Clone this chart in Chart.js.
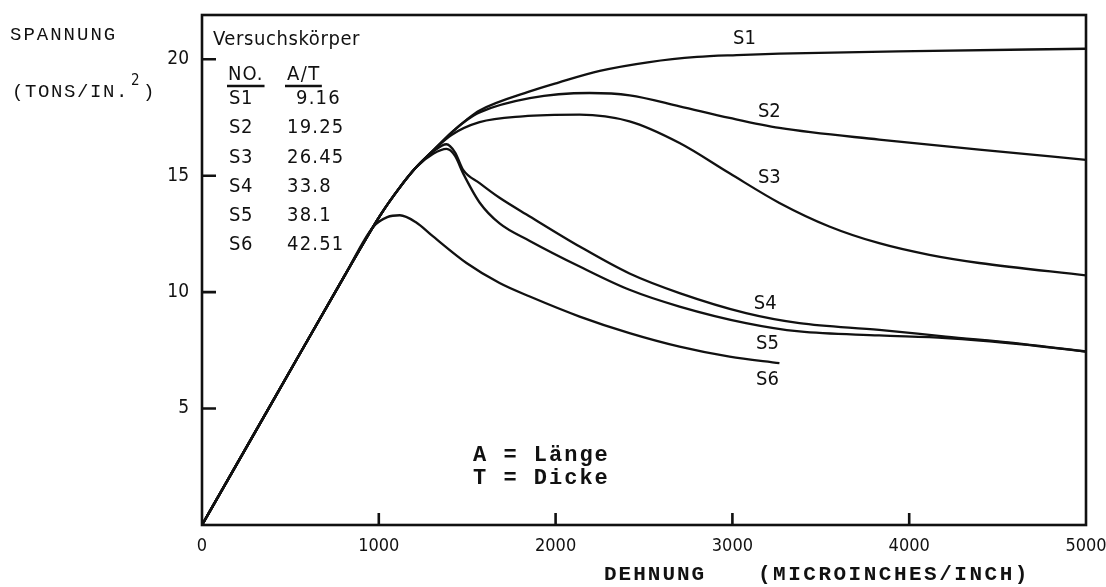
<!DOCTYPE html>
<html>
<head>
<meta charset="utf-8">
<script src="https://cdn.jsdelivr.net/npm/chart.js@4.4.1/dist/chart.umd.min.js"></script>
<style>
  html, body { margin: 0; padding: 0; background: #fff; }
</style>
</head>
<body>
<canvas id="chart" width="1106" height="587"></canvas>
<script>
// strain (microinches/inch) vs stress (tons/in^2)
const S1 = [[0,0],[403,5.35],[806,10.7],[1008,13.3],[1119,14.5],[1210,15.35],[1310,16.1],[1411,16.85],[1496,17.4],[1570,17.8],[1854,18.62],[2016,19.0],[2250,19.5],[2531,19.88],[2800,20.1],[3024,20.18],[3266,20.24],[4032,20.35],[5000,20.45]];
const S2 = [[0,0],[403,5.35],[806,10.7],[1008,13.3],[1119,14.5],[1210,15.35],[1310,16.1],[1411,16.85],[1496,17.38],[1570,17.72],[1854,18.33],[2192,18.55],[2419,18.45],[2701,17.98],[2984,17.48],[3266,17.05],[3830,16.55],[4396,16.12],[5000,15.68]];
const S3 = [[0,0],[403,5.35],[806,10.7],[1008,13.3],[1119,14.5],[1210,15.35],[1310,16.1],[1411,16.75],[1570,17.3],[1814,17.55],[2136,17.62],[2418,17.33],[2701,16.4],[2984,15.1],[3266,13.83],[3548,12.82],[3830,12.1],[4114,11.6],[4396,11.25],[5000,10.72]];
const S4 = [[0,0],[403,5.35],[806,10.7],[1008,13.3],[1119,14.5],[1210,15.35],[1310,16.05],[1383,16.35],[1431,16.0],[1477,15.25],[1570,14.68],[1683,14.05],[1854,13.25],[2136,11.96],[2418,10.8],[2701,9.96],[3077,9.1],[3379,8.67],[3830,8.38],[4207,8.09],[4637,7.78],[5000,7.45]];
const S5 = [[0,0],[403,5.35],[806,10.7],[1008,13.3],[1119,14.5],[1210,15.35],[1310,15.95],[1383,16.15],[1431,15.85],[1477,15.1],[1570,13.85],[1683,12.95],[1854,12.2],[2136,11.1],[2418,10.1],[2701,9.38],[3077,8.67],[3379,8.31],[3830,8.14],[4207,8.03],[4637,7.76],[5000,7.45]];
const S6 = [[0,0],[403,5.35],[806,10.7],[968,12.8],[1048,13.22],[1119,13.3],[1210,13.0],[1307,12.39],[1496,11.25],[1683,10.39],[1854,9.81],[2136,8.95],[2418,8.24],[2701,7.66],[2984,7.23],[3266,6.95]];

const seriesNames = ['S1', 'S2', 'S3', 'S4', 'S5', 'S6'];
const ratioAT = ['9.16', '19.25', '26.45', '33.8', '38.1', '42.51'];
const xTicks = [1000, 2000, 3000, 4000];
const yTicks = [5, 10, 15, 20];

const allSeries = [S1, S2, S3, S4, S5, S6];
const INK = '#111';
const DIN = "'DejaVu Sans Condensed', 'DejaVu Sans', sans-serif";
const MONO = "'Liberation Mono', 'DejaVu Sans Mono', monospace";

// where each curve name sits, in data units
const labelAt = [[3068,20.86],[3209,17.76],[3209,14.92],[3186,9.5],[3198,7.78],[3198,6.24]];

const datasets = allSeries.map((s, i) => ({
  label: seriesNames[i],
  data: s.map(p => ({x: p[0], y: p[1]})),
  borderColor: INK,
  borderWidth: 2.3,
  pointRadius: 0,
  fill: false,
  cubicInterpolationMode: 'monotone'
}));

function spaced(ctx, txt, x, y, ls) {
  ctx.letterSpacing = ls + 'px';
  ctx.fillText(txt, x, y);
  const w = ctx.measureText(txt).width;
  ctx.letterSpacing = '0px';
  return w;
}

const annotate = {
  id: 'annotate',
  afterDraw(chart) {
    const ctx = chart.ctx;
    const a = chart.chartArea;
    const x = chart.scales.x, y = chart.scales.y;
    ctx.save();
    ctx.strokeStyle = INK;
    ctx.fillStyle = INK;
    ctx.lineWidth = 2.6;
    ctx.strokeRect(a.left, a.top, a.right - a.left, a.bottom - a.top);

    // tick marks point into the plot
    ctx.beginPath();
    yTicks.forEach(v => {
      const py = y.getPixelForValue(v);
      ctx.moveTo(a.left, py); ctx.lineTo(a.left + 14, py);
    });
    xTicks.forEach(v => {
      const px = x.getPixelForValue(v);
      ctx.moveTo(px, a.bottom); ctx.lineTo(px, a.bottom - 12);
    });
    ctx.stroke();

    ctx.textBaseline = 'middle';
    ctx.textAlign = 'left';

    // axis titles, typewriter style
    ctx.font = '19px ' + MONO;
    spaced(ctx, 'SPANNUNG', 10, 35, 2);
    let w = spaced(ctx, '(TONS/IN.', 12, 92, 1.6);
    ctx.font = '15px ' + DIN;
    ctx.fillText('2', 12 + w + 2, 81);
    ctx.font = '19px ' + MONO;
    ctx.fillText(')', 12 + w + 14, 92);

    ctx.font = 'bold 21px ' + MONO;
    spaced(ctx, 'DEHNUNG', 604, 575, 2);
    spaced(ctx, '(MICROINCHES/INCH)', 758, 575, 2.5);

    ctx.font = 'bold 22px ' + MONO;
    spaced(ctx, 'A = Länge', 473, 455, 2);
    spaced(ctx, 'T = Dicke', 473, 478, 2);

    // specimen table
    ctx.font = '20px ' + DIN;
    spaced(ctx, 'Versuchskörper', 213, 40, 0.6);
    const wNo = spaced(ctx, 'NO.', 228, 75, 1);
    const wAT = spaced(ctx, 'A/T', 287, 75, 1.5);
    ctx.lineWidth = 2.4;
    ctx.beginPath();
    ctx.moveTo(227, 86); ctx.lineTo(229 + wNo, 86);
    ctx.moveTo(285, 86); ctx.lineTo(287 + wAT + 1, 86);
    ctx.stroke();
    seriesNames.forEach((n, i) => {
      const ry = 99 + i * 29.2;
      spaced(ctx, n, 229, ry, 0.5);
      spaced(ctx, ratioAT[i], i === 0 ? 296 : 287, ry, 1.2);
    });

    // curve names
    ctx.textAlign = 'center';
    ctx.font = '20px ' + DIN;
    seriesNames.forEach((n, i) => {
      ctx.fillText(n, x.getPixelForValue(labelAt[i][0]), y.getPixelForValue(labelAt[i][1]));
    });
    ctx.restore();
  }
};

new Chart(document.getElementById('chart'), {
  type: 'line',
  data: { datasets: datasets },
  options: {
    responsive: false,
    animation: false,
    layout: { padding: { top: 15, right: 20, left: 0, bottom: 0 } },
    plugins: { legend: { display: false }, tooltip: { enabled: false }, title: { display: false } },
    scales: {
      x: {
        type: 'linear',
        min: 0,
        max: 5000,
        grid: { display: false, drawTicks: false },
        border: { display: false },
        ticks: {
          stepSize: 1000,
          maxRotation: 0,
          autoSkip: false,
          padding: 11,
          color: INK,
          font: { family: DIN, size: 18 },
          callback: v => String(v)
        },
        afterFit(scale) {
          scale.height = 62;
          scale.paddingLeft = 0;
          scale.paddingRight = 0;
        }
      },
      y: {
        type: 'linear',
        min: 0,
        max: 21.9,
        grid: { display: false, drawTicks: false },
        border: { display: false },
        ticks: {
          stepSize: 5,
          padding: 13,
          color: INK,
          font: { family: DIN, size: 19 },
          callback: v => yTicks.includes(v) ? String(v) : ''
        },
        afterFit(scale) {
          scale.width = 202;
          scale.paddingTop = 0;
          scale.paddingBottom = 0;
        }
      }
    }
  },
  plugins: [annotate]
});
</script>
</body>
</html>
